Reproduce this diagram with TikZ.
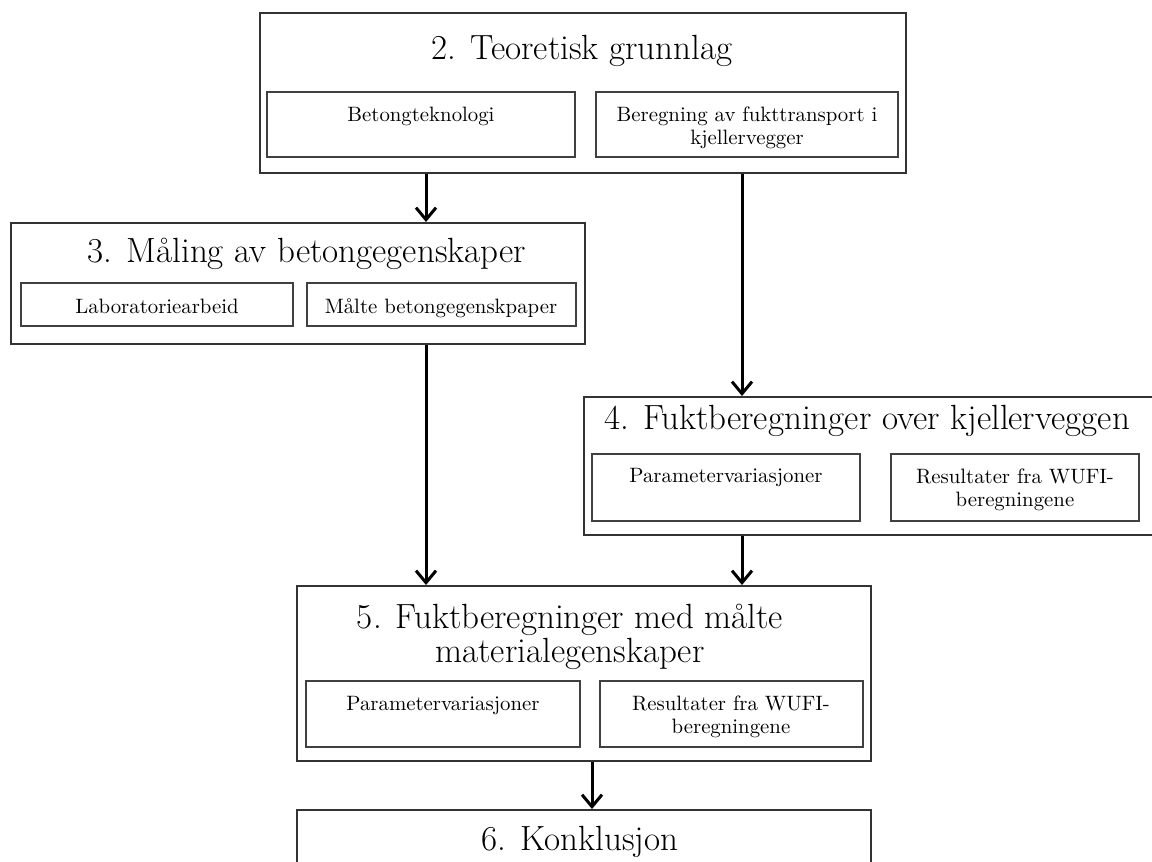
\documentclass[tikz,border=0pt]{standalone}
\usetikzlibrary{arrows.meta,fit}
\begin{document}
\begin{tikzpicture}[x=0.5pt,y=-0.5pt,
  outer/.style={draw=black!80, line width=1pt, inner sep=0pt},
  inner/.style={draw=black!75, line width=1.2pt, inner sep=0pt},
  title/.style={font=\fontsize{17.5}{17}\selectfont, inner sep=0pt, align=center, anchor=base},
  lbl/.style={font=\fontsize{10.4}{11.5}\selectfont, inner sep=0pt, align=center, anchor=base},
  arr/.style={line width=1.5pt, -{Straight Barb[length=6pt,width=10pt]}}]
\clip (0,0) rectangle (1152,862);
% Box 2
\node[outer, fit={(260,13) (906,173)}] (b2) {};
\node[title] (t2) at (582,59) {2. Teoretisk grunnlag};
\node[inner, fit={(267,92) (575,157)}] (b2a) {};
\node[inner, fit={(596,92) (898,157)}] (b2b) {};
\node[lbl] (l2a) at (421,121) {Betongteknologi};
\node[lbl] (l2b) at (747,144) {Beregning av fukttransport i\\kjellervegger};
% Box 3
\node[outer, fit={(11,223) (585,344)}] (b3) {};
\node[title] (t3) at (307,262) {3. M\aa ling av betongegenskaper};
\node[inner, fit={(21,283) (293,326)}] (b3a) {};
\node[inner, fit={(307,283) (576,326)}] (b3b) {};
\node[lbl] (l3a) at (157,313) {Laboratoriearbeid};
\node[lbl] (l3b) at (441,313) {M\aa lte betongegenskpaper};
% Box 4
\node[outer, fit={(584,397) (1156,535)}] (b4) {};
\node[title] (t4) at (867,429) {4. Fuktberegninger over kjellerveggen};
\node[inner, fit={(592,454) (860,521)}] (b4a) {};
\node[inner, fit={(891,454) (1139,521)}] (b4b) {};
\node[lbl] (l4a) at (726,482) {Parametervariasjoner};
\node[lbl] (l4b) at (1015,506) {Resultater fra WUFI-\\beregningene};
% Box 5
\node[outer, fit={(297,586) (871,761)}] (b5) {};
\node[title] (t5) at (570,662) {5. Fuktberegninger med m\aa lte\\materialegenskaper};
\node[inner, fit={(306,681) (580,747)}] (b5a) {};
\node[inner, fit={(600,681) (863,747)}] (b5b) {};
\node[lbl] (l5a) at (443,710) {Parametervariasjoner};
\node[lbl] (l5b) at (731,733) {Resultater fra WUFI-\\beregningene};
% Box 6
\node[outer, fit={(297,810) (871,880)}] (b6) {};
\node[title] (t6) at (580,850) {6. Konklusjon};
% connectors
\coordinate (cA) at (426,0);
\coordinate (cB) at (742,0);
\coordinate (cE) at (592,0);
\draw[arr] (b2.south -| cA) -- (b3.north -| cA);
\draw[arr] (b2.south -| cB) -- (b4.north -| cB);
\draw[arr] (b3.south -| cA) -- (b5.north -| cA);
\draw[arr] (b4.south -| cB) -- (b5.north -| cB);
\draw[arr] (b5.south -| cE) -- (b6.north -| cE);
\end{tikzpicture}
\end{document}
